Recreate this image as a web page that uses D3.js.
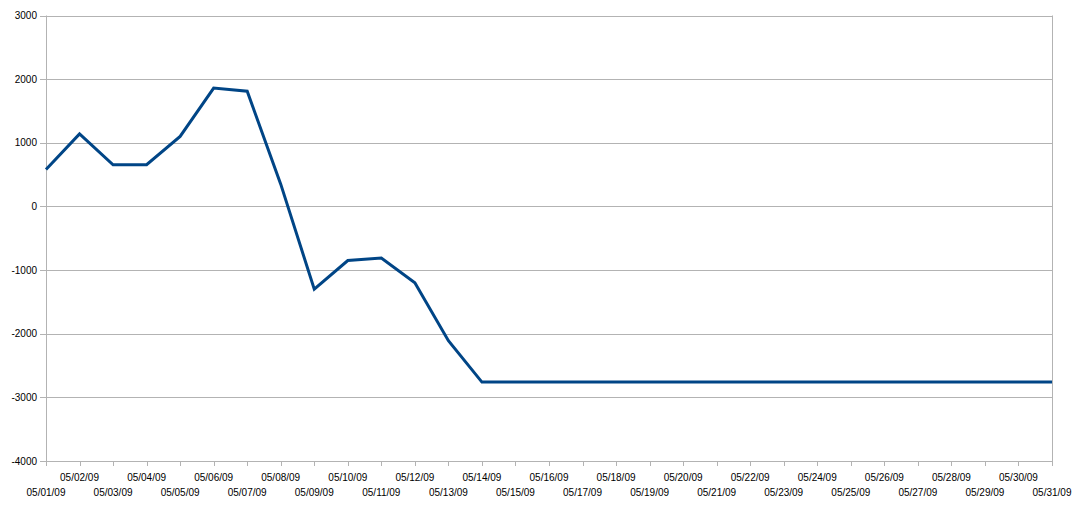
<!DOCTYPE html>
<html><head><meta charset="utf-8">
<script src="https://cdn.jsdelivr.net/npm/d3@7"></script>
<style>body{margin:0;background:#fff}svg{display:block}text{font-family:"Liberation Sans",Arial,sans-serif;font-size:10px;fill:#000}</style>
</head><body>
<svg id="c" width="1088" height="512"></svg>
<script>
const dates = ["05/01/09","05/02/09","05/03/09","05/04/09","05/05/09","05/06/09","05/07/09","05/08/09","05/09/09","05/10/09","05/11/09","05/12/09","05/13/09","05/14/09","05/15/09","05/16/09","05/17/09","05/18/09","05/19/09","05/20/09","05/21/09","05/22/09","05/23/09","05/24/09","05/25/09","05/26/09","05/27/09","05/28/09","05/29/09","05/30/09","05/31/09"];
const values = [580,1140,655,655,1100,1860,1810,350,-1300,-850,-810,-1200,-2110,-2760,-2760,-2760,-2760,-2760,-2760,-2760,-2760,-2760,-2760,-2760,-2760,-2760,-2760,-2760,-2760,-2760,-2760];
const yTicks = [3000,2000,1000,0,-1000,-2000,-3000,-4000];

const svg = d3.select("#c");
const L = 46, R = 1052, T = 15.5, B = 461;
const x = d3.scalePoint().domain(dates).range([L, R]);
const y = d3.scaleLinear().domain([-4000, 3000]).range([B, T]);
const grid = "#b3b3b3";

svg.append("g").selectAll("line").data(yTicks).join("line")
  .attr("x1", L - 6).attr("x2", R)
  .attr("y1", d => Math.round(y(d)) + 0.5).attr("y2", d => Math.round(y(d)) + 0.5)
  .attr("stroke", grid).attr("stroke-width", 1);
svg.append("g").selectAll("text").data(yTicks).join("text")
  .attr("x", 37).attr("y", d => y(d)).attr("dy", "0.35em")
  .attr("text-anchor", "end").text(d => d);
svg.append("line").attr("x1", L + 0.5).attr("x2", L + 0.5).attr("y1", T).attr("y2", B)
  .attr("stroke", grid);
svg.append("line").attr("x1", R + 0.5).attr("x2", R + 0.5).attr("y1", T).attr("y2", B)
  .attr("stroke", grid);
svg.append("g").selectAll("line").data(dates).join("line")
  .attr("x1", d => Math.round(x(d)) + 0.5).attr("x2", d => Math.round(x(d)) + 0.5)
  .attr("y1", B).attr("y2", B + 5).attr("stroke", grid);
svg.append("g").selectAll("text").data(dates).join("text")
  .attr("x", d => x(d)).attr("y", (d, i) => i % 2 === 0 ? 495.5 : 480.5)
  .attr("text-anchor", "middle").text(d => d);

const line = d3.line().x((d, i) => x(dates[i])).y(d => y(d));
svg.append("path").datum(values).attr("d", line)
  .attr("fill", "none").attr("stroke", "#004586").attr("stroke-width", 3)
  .attr("stroke-linejoin", "miter");
</script>
</body></html>
